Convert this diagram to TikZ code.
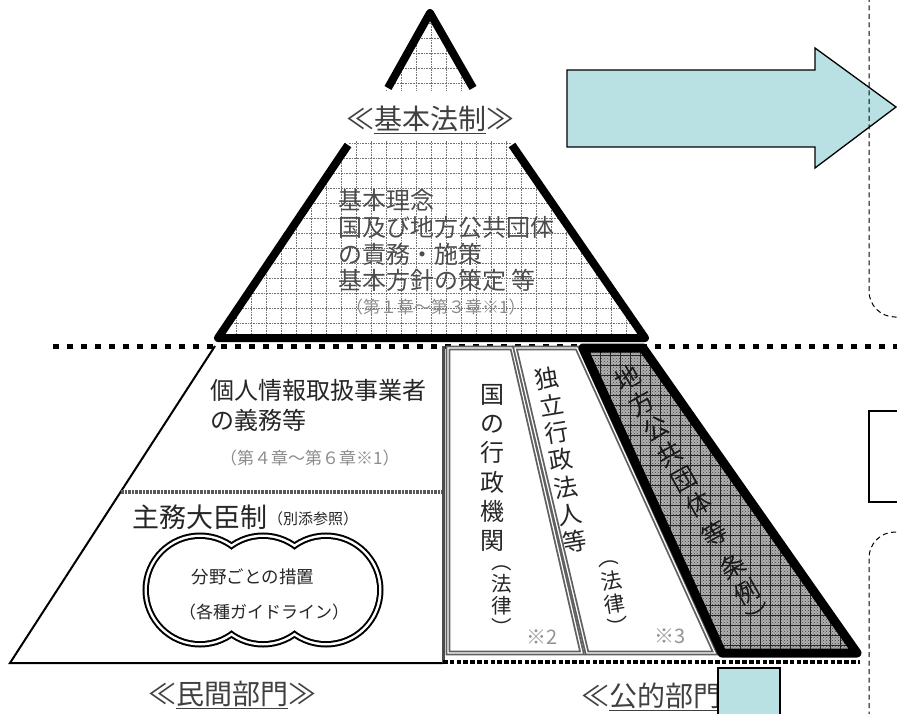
\documentclass[tikz,border=0pt]{standalone}
\usepackage{fontspec}
\setmainfont{Noto Sans CJK JP}
\usetikzlibrary{patterns}
\definecolor{ablue}{HTML}{B9E0E3}
\newcommand{\ulx}[1]{\setbox0=\hbox{#1}\leavevmode\rlap{\rule[-5pt]{\wd0}{1.6pt}}\box0}
\begin{document}
\begin{tikzpicture}[x=1pt,y=-1pt,
  pyr/.style={line width=8pt, line join=round},
  sqdots/.style={line width=5pt, dash pattern=on 5.5pt off 8.5pt},
  sqdots2/.style={line width=4pt, dash pattern=on 4.5pt off 2.3pt},
  gridl/.style={black!55, line width=0.6pt, dash pattern=on 0.8pt off 0.8pt},
  dgrid/.style={black!85, line width=0.6pt},
  sepdots/.style={black!65, line width=3.5pt, dash pattern=on 2.6pt off 1pt},
  gbox/.style={draw=gray!75!black, line width=1.8pt, double=white, double distance=1.2pt},
  jp/.style={inner sep=0pt, text=black!85},
  ttext/.style={inner sep=0pt, text=black!70, anchor=west, font=\fontsize{24}{27}\selectfont},
  lbl/.style={inner sep=0pt, text=black!75, font=\fontsize{28}{30}\selectfont},
  dashbox/.style={dashed, dash pattern=on 5pt off 3.5pt, line width=1pt, rounded corners=26pt},
  vcol/.style={jp, align=center, font=\fontsize{24}{29.2}\selectfont},
  pcol/.style={jp, align=center, font=\fontsize{20.5}{22}\selectfont},
  dcol/.style={inner sep=0pt, text=black!90, align=center, rotate=29.2, font=\fontsize{25}{29}\selectfont},
  note/.style={inner sep=0pt, text=gray!85, font=\fontsize{20}{22}\selectfont}
]
\useasboundingbox (0,0) rectangle (897,714);

% ---------- top pyramid ----------
\begin{scope}
\clip (430,13) -- (388,88) -- (348,145) -- (218,338) -- (645,338) -- (512,145) -- (473,88) -- cycle;
\foreach \i in {0,...,31} \draw[gridl] ({206.7+15*\i},0) -- ({206.7+15*\i},345);
\foreach \j in {0,...,23} \draw[gridl] (200,{8.3+15*\j}) -- (660,{8.3+15*\j});
\end{scope}
\fill[white] (335,91) rectangle (525,141);
\node[lbl] (kihon) at (430,120) {≪\ulx{基本法制}≫};
\node[ttext] (t1) at (338,200) {基本理念};
\node[ttext] (t2) at (338,227) {国及び地方公共団体};
\node[ttext] (t3) at (338,254) {の責務・施策};
\node[ttext] (t4) at (338,280) {基本方針の策定 等};
\node[ttext, text=black!45, font=\fontsize{17}{19}\selectfont] (t5) at (346,307) {（第１章～第３章※1）};
\draw[pyr] (388,88) -- (430,13) -- (473,88);
\draw[pyr] (348,145) -- (218,338) -- (645,338) -- (512,145);

% ---------- dotted divider ----------
\draw[sqdots] (53,346) -- (897,346);

% ---------- private sector ----------
\draw[line width=2pt] (215,346) -- (10,663) -- (443,663);
\draw[black!70, line width=3pt] (443,346) -- (443,663);
\draw[sepdots] (121,492) -- (442,492);
\node[jp, anchor=west, font=\fontsize{24}{26}\selectfont] (p1) at (210,390) {個人情報取扱事業者};
\node[jp, anchor=west, font=\fontsize{24}{26}\selectfont] (p2) at (210,420) {の義務等};
\node[jp, anchor=west, text=gray!90, font=\fontsize{17}{19}\selectfont] (p3) at (220,458) {（第４章～第６章※1）};
\node[jp, anchor=west, font=\fontsize{27}{29}\selectfont] (p4) at (132,517) {主務大臣制};
\node[jp, anchor=west, font=\fontsize{15}{17}\selectfont] (p5) at (268,519) {（別添参照）};
\foreach \c in {200,263,326} \draw[line width=13pt] (\c,590) circle[radius=51pt];
\foreach \c in {200,263,326} \draw[white, line width=9pt] (\c,590) circle[radius=51pt];
\foreach \c in {200,263,326} \draw[line width=4pt] (\c,590) circle[radius=51pt];
\foreach \c in {200,263,326} \fill[white] (\c,590) circle[radius=51pt];
\node[jp, font=\fontsize{17.5}{19}\selectfont] (c1) at (253,577) {分野ごとの措置};
\node[jp, font=\fontsize{17}{19}\selectfont] (c2) at (264,612) {（各種ガイドライン）};
\node[lbl] (minkan) at (232,695) {≪\ulx{民間部門}≫};

% ---------- public sector ----------
\draw[gbox] (448,348) -- (512,348) -- (582,653) -- (448,653) -- cycle;
\draw[gbox] (515,348) -- (577,348) -- (715,653) -- (587,653) -- cycle;
\node[vcol] (g1) at (492,468) {国\\の\\行\\政\\機\\関};
\node[pcol] (g2) at (502,601) {︵\\法\\律\\︶};
\node[note] (n2) at (542,637) {※2};
\node[vcol, rotate=9.6, font=\fontsize{24}{27.7}\selectfont] (d1) at (561,460) {独\\立\\行\\政\\法\\人\\等};
\node[pcol, rotate=9.6, font=\fontsize{21}{23.5}\selectfont] (d2) at (614,598) {︵\\法\\律\\︶};
\node[note] (n3) at (670,636) {※3};

\fill[gray!62] (583,348) -- (643,348) -- (857,653) -- (722,653) -- cycle;
\fill[pattern=crosshatch dots, pattern color=black!75] (583,348) -- (643,348) -- (857,653) -- (722,653) -- cycle;
\begin{scope}
\clip (583,348) -- (643,348) -- (857,653) -- (722,653) -- cycle;
\foreach \i in {0,...,30} \draw[dgrid] ({580+10*\i},340) -- ({580+10*\i},660);
\foreach \j in {0,...,32} \draw[dgrid] (575,{345+10*\j}) -- (865,{345+10*\j});
\end{scope}
\node[dcol] (dcol) at (693.9,496.6) {地\\方\\公\\共\\団\\体\\[5pt]等\\[8pt]条\\例\\︶};
\draw[line width=9pt, line join=round] (583,348) -- (643,348) -- (857,653) -- (722,653) -- cycle;

\draw[sqdots2] (443,662) -- (860,662);
\node[lbl] (koteki) at (665,697) {≪\ulx{公的部門}≫};
\draw[fill=ablue, line width=1.3pt] (718,668) rectangle (780,725);

% ---------- right side ----------
\draw[fill=ablue, line width=1.3pt, line join=miter]
  (567,70) -- (815,70) -- (815,48) -- (896,107) -- (815,168) -- (815,147) -- (567,147) -- cycle;
\draw[dashbox] (869,-20) -- (869,317) -- (930,317);
\draw[line width=1.5pt] (869,411) rectangle (930,502);
\draw[dashbox] (930,532) -- (869,532) -- (869,740);
\end{tikzpicture}
\end{document}
